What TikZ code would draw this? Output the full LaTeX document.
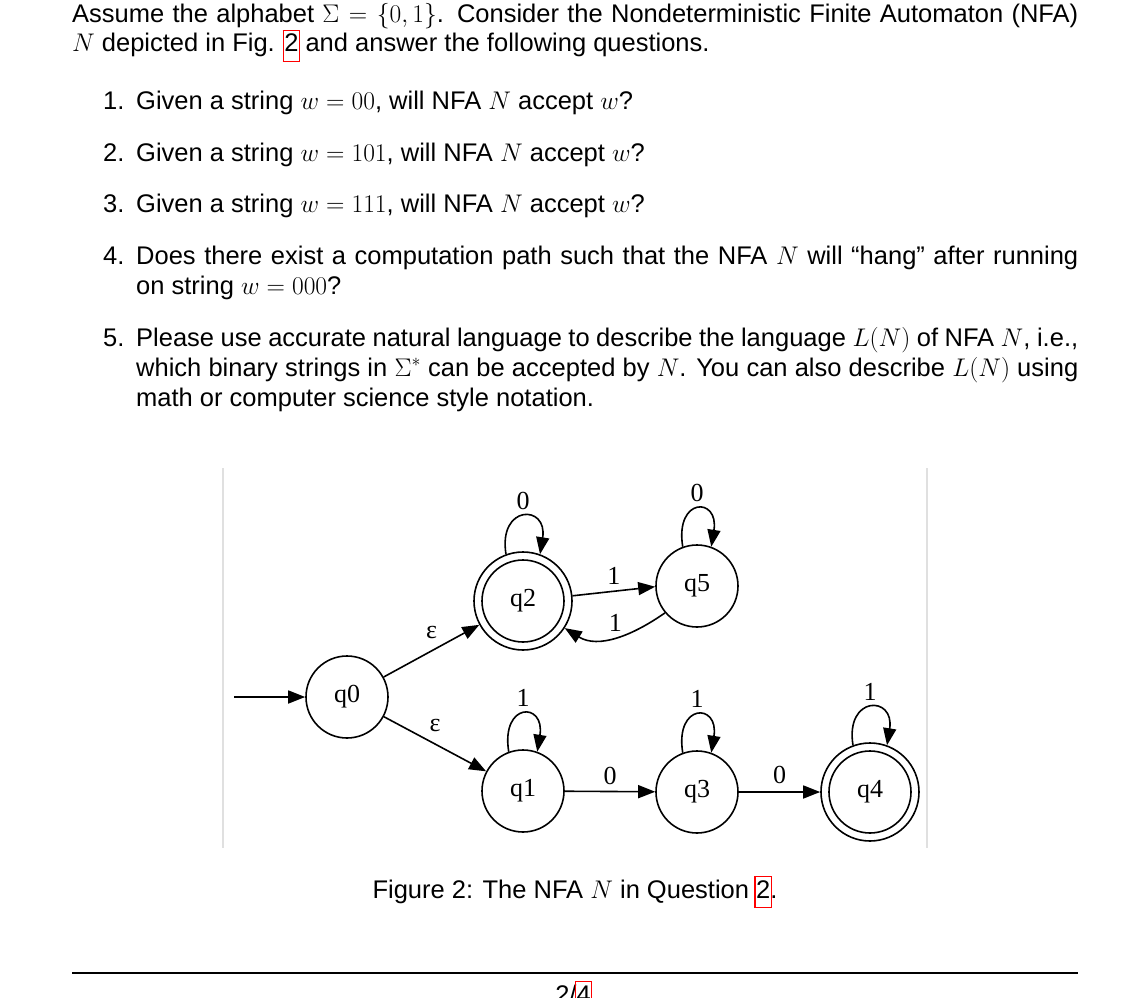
\RequirePackage{fix-cm}
\documentclass[tikz,border=0pt]{standalone}
\usepackage{fontspec}
\setmainfont{Liberation Sans}
\newfontfamily\figfont{Liberation Serif}
\usetikzlibrary{arrows.meta}
\newcommand\bodyfont{\fontsize{25.5}{30}\selectfont}
\newcommand\figtext{\figfont\fontsize{26}{30}\selectfont}
\newcommand\lnk[1]{\makebox[0pt][l]{\color{red}\kern-1.7pt\setlength\fboxsep{0pt}\setlength\fboxrule{1.2pt}\fbox{\strut\kern0.5pt\phantom{#1}\kern0.5pt}}#1}
\begin{document}
\begin{tikzpicture}[x=1pt,y=-1pt,
  txt/.style={anchor=base west, inner sep=0pt, font=\bodyfont},
  state/.style={circle, draw, line width=1.6pt, minimum size=82pt, inner sep=0pt, font=\figtext},
  accept/.style={state, minimum size=98pt},
  edge/.style={line width=1.6pt, -{Triangle[length=17pt,width=13pt]}},
  lbl/.style={font=\figtext, inner sep=0pt},
  frame/.style={draw=black!12, line width=1.2pt}]
\useasboundingbox (0,0) rectangle (1128,998);
\fill[white] (0,0) rectangle (1128,998);
% text
\node[txt] (l1) at (72,23) {\makebox[1006pt][s]{Assume the alphabet $\Sigma=\{0,1\}$. Consider the Nondeterministic Finite Automaton (NFA)}};
\node[txt] (l2) at (72,52) {$N$ depicted in Fig. \lnk{2} and answer the following questions.};
\node[txt] (n1) at (103,110) {1.};
\node[txt] (i1) at (136,110) {Given a string $w=00$, will NFA $N$ accept $w$?};
\node[txt] (n2) at (103,161) {2.};
\node[txt] (i2) at (136,161) {Given a string $w=101$, will NFA $N$ accept $w$?};
\node[txt] (n3) at (103,212) {3.};
\node[txt] (i3) at (136,212) {Given a string $w=111$, will NFA $N$ accept $w$?};
\node[txt] (n4) at (103,264) {4.};
\node[txt] (i4a) at (136,264) {\makebox[942pt][s]{Does there exist a computation path such that the NFA $N$ will “hang” after running}};
\node[txt] (i4b) at (136,294) {on string $w=000$?};
\node[txt] (n5) at (103,346) {5.};
\node[txt] (i5a) at (136,346) {\makebox[942pt][s]{Please use accurate natural language to describe the language $L(N)$ of NFA $N$, i.e.,}};
\node[txt] (i5b) at (136,376) {\makebox[942pt][s]{which binary strings in $\Sigma^*$ can be accepted by $N$. You can also describe $L(N)$ using}};
\node[txt] (i5c) at (136,406) {math or computer science style notation.};
% figure frame
\coordinate (fl1) at (223,468); \coordinate (fl2) at (223,848);
\coordinate (fr1) at (927,468); \coordinate (fr2) at (927,848);
\draw[frame] (fl1) -- (fl2);
\draw[frame] (fr1) -- (fr2);
% states
\node[state] (q0) at (347,697) {q0};
\node[state] (q1) at (523,791) {q1};
\node[state] (q3) at (697,792) {q3};
\node[accept] (q4) at (870,792) {q4};
\node[accept] (q2) at (523,601) {q2};
\node[state] (q5) at (697,586) {q5};
\draw[line width=1.6pt] (q2.center) circle[radius=41pt];
\draw[line width=1.6pt] (q4.center) circle[radius=41pt];
% edges
\coordinate (s) at (234,697);
\draw[edge] (s) -- (q0);
\draw[edge] (q0) -- node[lbl, yshift=18pt]{ε} (q2);
\draw[edge] (q0) -- node[lbl, yshift=19pt]{ε} (q1);
\draw[edge] (q1) -- node[lbl, yshift=16pt]{0} (q3);
\draw[edge] (q3) -- node[lbl, yshift=17pt]{0} (q4);
\draw[edge] (q2.6) -- node[lbl, yshift=15pt]{1} (q5.181);
\draw[edge] (q5.220) to[out=215, in=-32] node[lbl, pos=0.5, yshift=14pt]{1} (q2.327);
\draw[edge] (q2.110) .. controls +(-8,-50) and +(8,-50) .. node[lbl, pos=0.5, yshift=16pt]{0} (q2.70);
\draw[edge] (q5.110) .. controls +(-8,-50) and +(8,-50) .. node[lbl, pos=0.5, yshift=16pt]{0} (q5.70);
\draw[edge] (q1.110) .. controls +(-8,-50) and +(8,-50) .. node[lbl, pos=0.5, yshift=16pt]{1} (q1.70);
\draw[edge] (q3.110) .. controls +(-8,-50) and +(8,-50) .. node[lbl, pos=0.5, yshift=16pt]{1} (q3.70);
\draw[edge] (q4.110) .. controls +(-8,-50) and +(8,-50) .. node[lbl, pos=0.5, yshift=16pt]{1} (q4.70);
% caption and footer
\node[anchor=base, inner sep=0pt, font=\bodyfont] (cap) at (575,898) {Figure 2: The NFA $N$ in Question \lnk{2}.};
\coordinate (r1) at (72,973); \coordinate (r2) at (1078,973);
\draw[line width=2pt] (r1) -- (r2);
\node[anchor=base, inner sep=0pt, font=\bodyfont] (pg) at (573,1003) {2/\lnk{4}};
\end{tikzpicture}
\end{document}
